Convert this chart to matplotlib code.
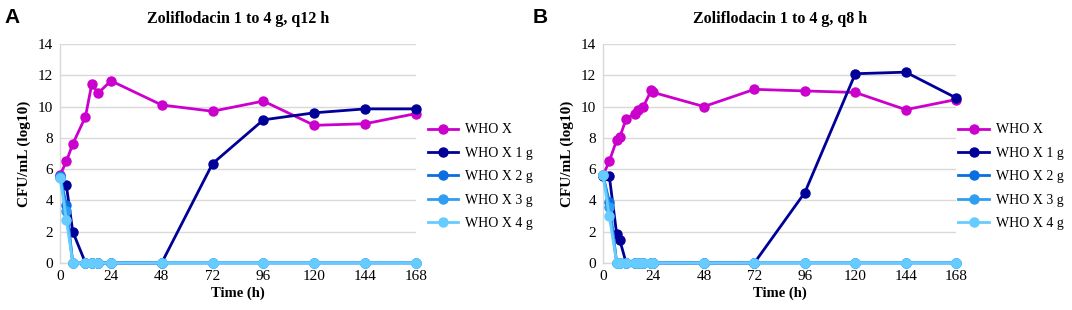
import matplotlib
matplotlib.use('Agg')
import matplotlib.pyplot as plt

# ─── data ───
# panel A: q12 h
time_a = [0, 3, 6, 12, 15, 18, 24, 48, 72, 96, 120, 144, 168]
who_a = [5.6, 6.5, 7.6, 9.35, 11.45, 10.85, 11.65, 10.1, 9.7, 10.35, 8.8, 8.9, 9.55]
g1_a = [5.5, 4.95, 2.0, 0, 0, 0, 0, 0, 6.35, 9.15, 9.6, 9.85, 9.85]
g2_a = [5.55, 3.7, 0, 0, 0, 0, 0, 0, 0, 0, 0, 0, 0]
g3_a = [5.5, 3.3, 0, 0, 0, 0, 0, 0, 0, 0, 0, 0, 0]
g4_a = [5.45, 2.75, 0, 0, 0, 0, 0, 0, 0, 0, 0, 0, 0]

# panel B: q8 h
time_b = [0, 3, 6.5, 8, 11, 15, 16.5, 19, 23, 24, 48, 72, 96, 120, 144, 168]
who_b = [5.6, 6.5, 7.85, 8.05, 9.2, 9.55, 9.75, 9.95, 11.05, 10.9, 10.0, 11.1, 11.0, 10.9, 9.8, 10.45]
g1_b = [5.55, 5.55, 1.85, 1.45, 0, 0, 0, 0, 0, 0, 0, 0, 4.5, 12.1, 12.2, 10.55]
g2_b = [5.6, 3.9, 0, 0, 0, 0, 0, 0, 0, 0, 0, 0, 0, 0, 0, 0]
g3_b = [5.6, 3.6, 0, 0, 0, 0, 0, 0, 0, 0, 0, 0, 0, 0, 0, 0]
g4_b = [5.6, 3.0, 0, 0, 0, 0, 0, 0, 0, 0, 0, 0, 0, 0, 0, 0]

labels = ['WHO X', 'WHO X 1 g', 'WHO X 2 g', 'WHO X 3 g', 'WHO X 4 g']
colors = ['#cc00cc', '#000099', '#0a6ee0', '#2f9ef0', '#66ccff']
titles = ['Zoliflodacin 1 to 4 g, q12 h', 'Zoliflodacin 1 to 4 g, q8 h']
x_ticks = [0, 24, 48, 72, 96, 120, 144, 168]
y_ticks = [0, 2, 4, 6, 8, 10, 12, 14]

panels = [
    (time_a, [who_a, g1_a, g2_a, g3_a, g4_a]),
    (time_b, [who_b, g1_b, g2_b, g3_b, g4_b]),
]

serif = ['Liberation Serif', 'DejaVu Serif']
fig = plt.figure(figsize=(10.72, 3.10), dpi=100)
fig.patch.set_facecolor('white')

ax_rects = [[0.056, 0.152, 0.332, 0.706], [0.5625, 0.152, 0.3295, 0.706]]
letters = ['A', 'B']
letter_x = [0.004, 0.497]
legend_x = [0.399, 0.894]

for k, (t, series) in enumerate(panels):
    ax = fig.add_axes(ax_rects[k])
    for s, lab, c in zip(series, labels, colors):
        ax.plot(t, s, color=c, lw=2.0, marker='o', ms=6.5, label=lab,
                clip_on=False, zorder=3)
    ax.set_xlim(0, 168)
    ax.set_ylim(0, 14)
    ax.set_xticks(x_ticks)
    ax.set_yticks(y_ticks)
    ax.tick_params(length=0, labelsize=11, pad=5)
    for lbl in ax.get_xticklabels() + ax.get_yticklabels():
        lbl.set_family(serif)
    ax.grid(axis='y', color='#d9d9d9', lw=1.0)
    ax.set_axisbelow(True)
    for sp in ['top', 'right']:
        ax.spines[sp].set_visible(False)
    for sp in ['left', 'bottom']:
        ax.spines[sp].set_color('#d9d9d9')
        ax.spines[sp].set_linewidth(1.0)
    ax.set_xlabel('Time (h)', family=serif, fontweight='bold', fontsize=10.5, labelpad=3)
    ax.set_ylabel('CFU/mL (log10)', family=serif, fontweight='bold', fontsize=11, labelpad=5)
    ax.set_title(titles[k], family=serif, fontweight='bold', fontsize=11.5, pad=15)
    ax.legend(loc='center left', bbox_to_anchor=(legend_x[k], 0.43),
              bbox_transform=fig.transFigure, frameon=False,
              prop={'family': serif, 'size': 10}, handlelength=2.2,
              handletextpad=0.5, labelspacing=0.75, borderaxespad=0, borderpad=0)
    fig.text(letter_x[k], 0.975, letters[k], family=['Liberation Sans', 'DejaVu Sans'],
             fontweight='bold', fontsize=15, va='top', ha='left')

fig.savefig('out.png', dpi=100, facecolor='white')
